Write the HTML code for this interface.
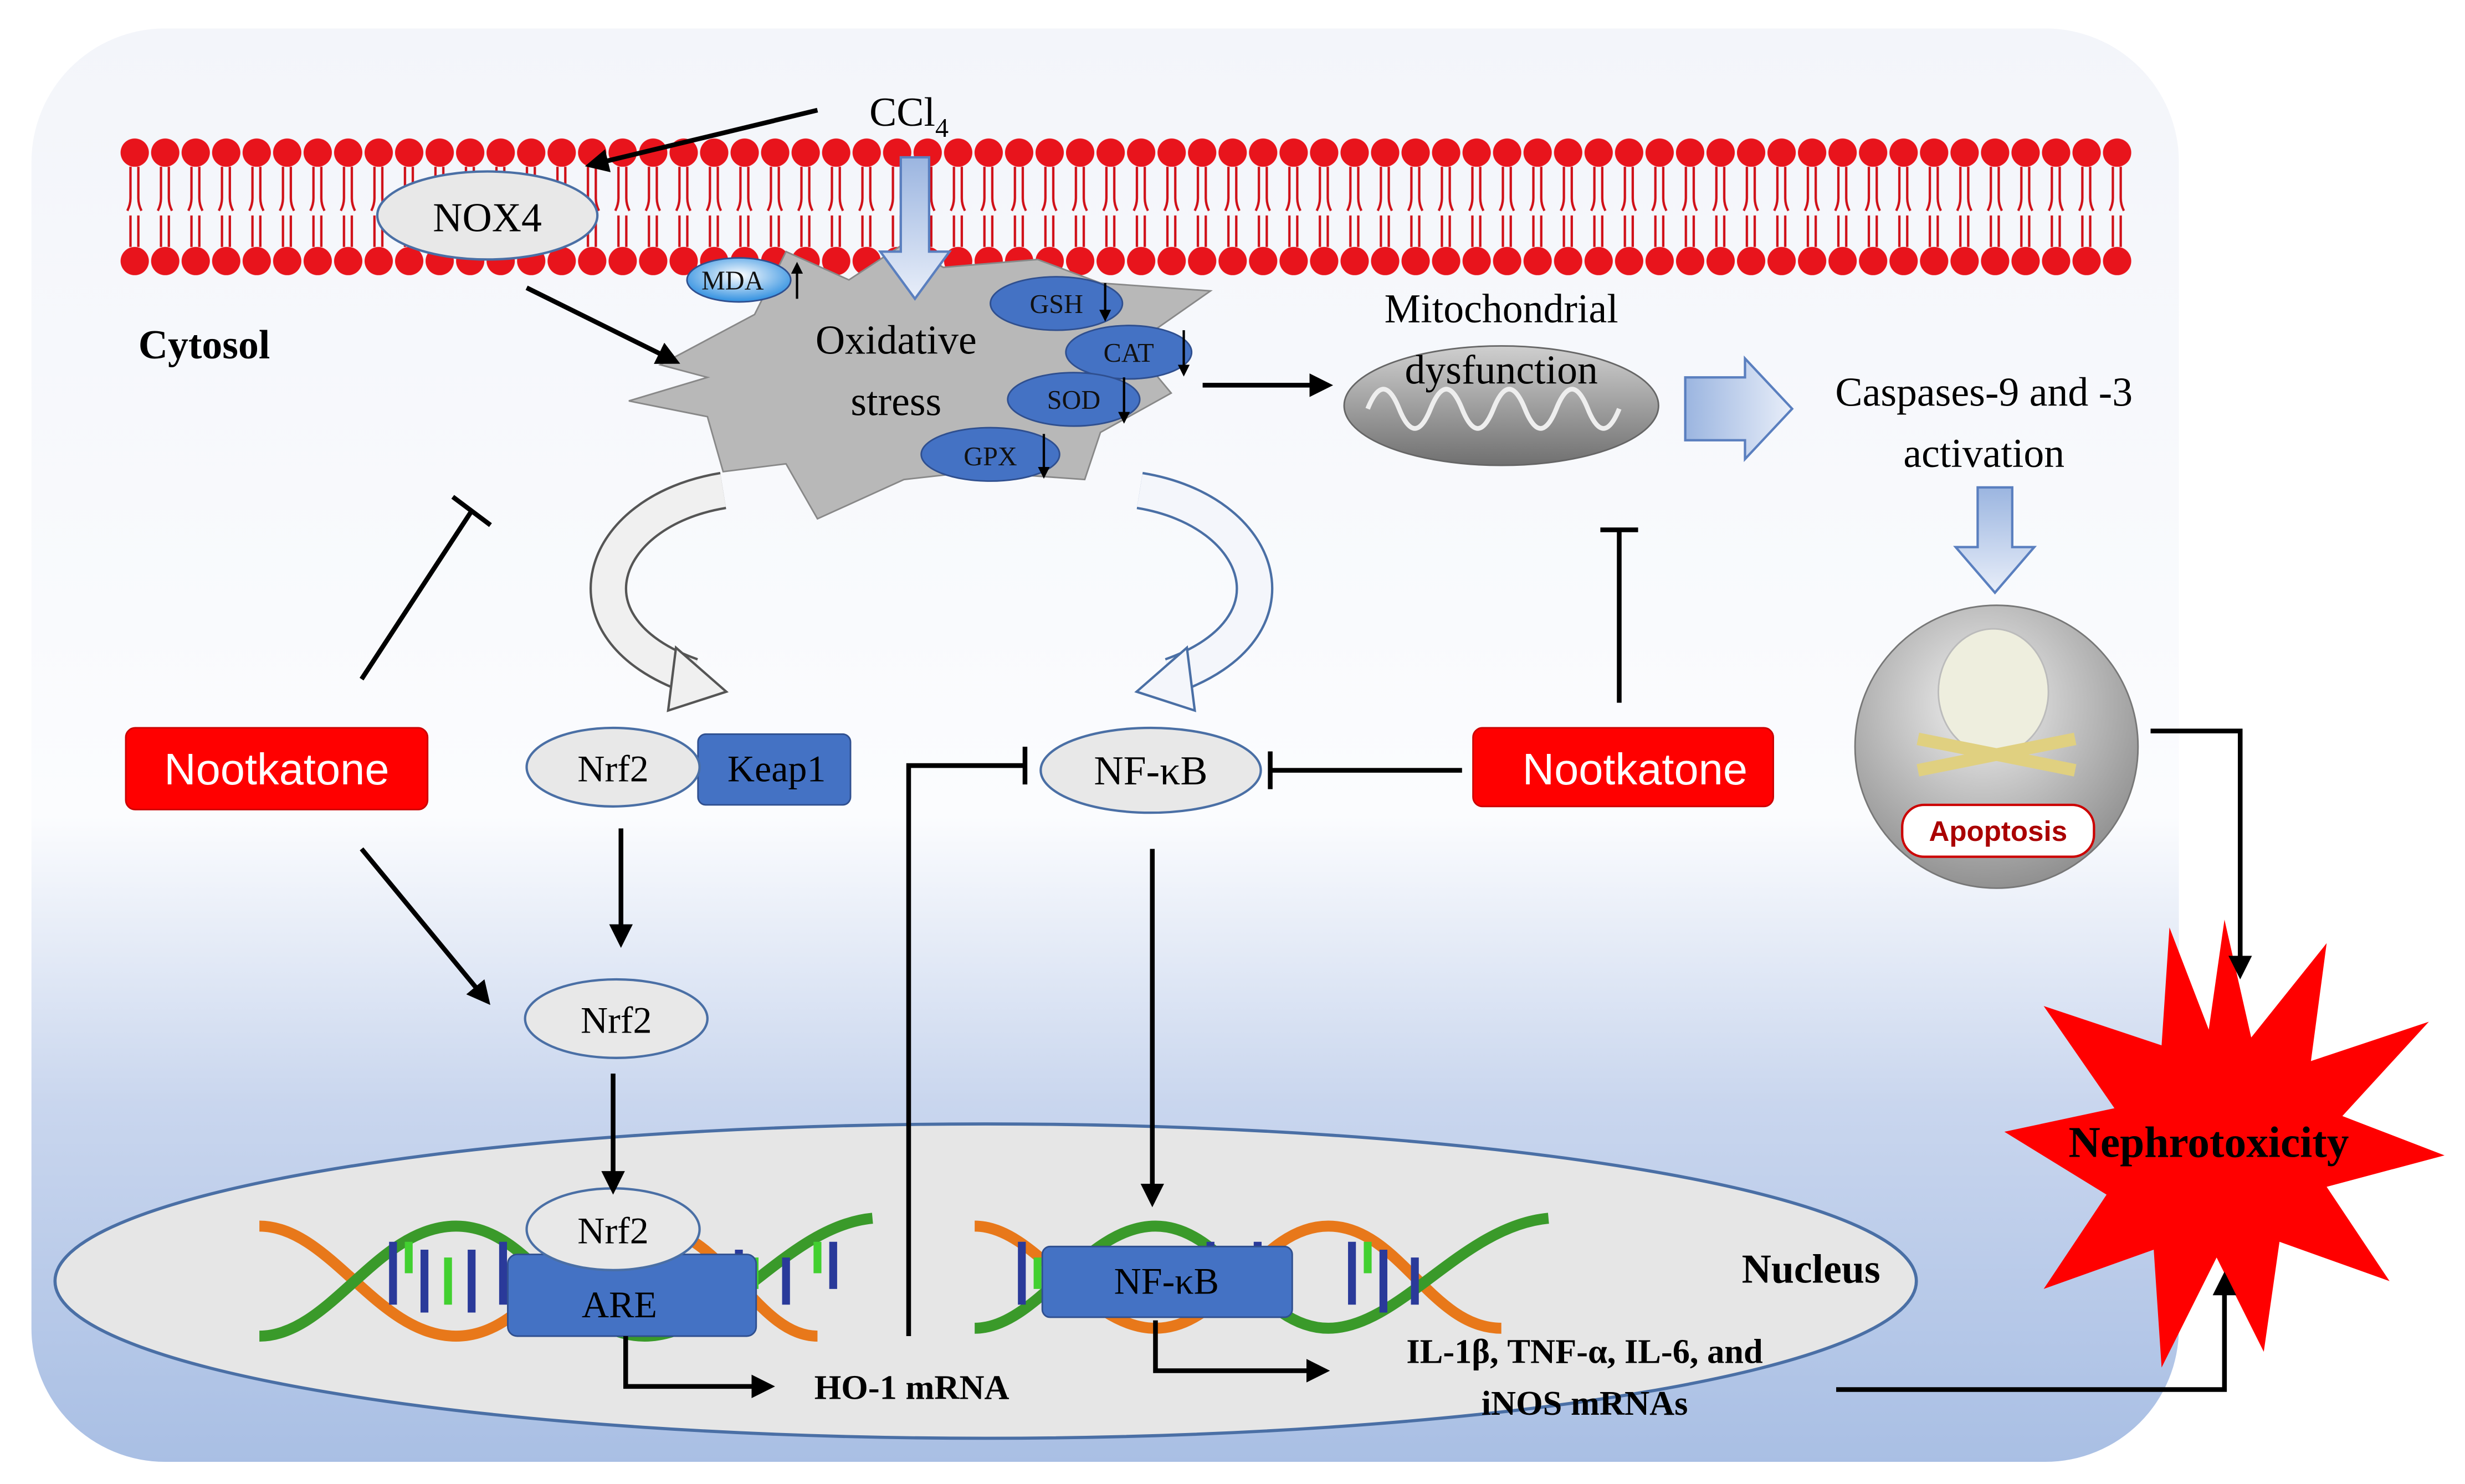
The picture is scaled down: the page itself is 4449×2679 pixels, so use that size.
<!DOCTYPE html>
<html><head><meta charset="utf-8"><style>
html,body{margin:0;padding:0;background:#fff}
svg{display:block}
text{font-family:"Liberation Serif",serif}
</style></head><body>
<svg width="4449" height="2679" viewBox="0 0 1568 944" xmlns="http://www.w3.org/2000/svg">
<defs>
<linearGradient id="bg" x1="0" y1="0" x2="0" y2="1">
<stop offset="0" stop-color="#f3f5fa"/><stop offset="0.55" stop-color="#fbfcfe"/><stop offset="0.75" stop-color="#c9d6ee"/><stop offset="1" stop-color="#a9bfe4"/>
</linearGradient>
<radialGradient id="blu" cx="0.5" cy="0.4" r="0.6"><stop offset="0" stop-color="#ffffff"/><stop offset="1" stop-color="#2f8fe0"/></radialGradient>
<radialGradient id="sk" cx="0.45" cy="0.35" r="0.7"><stop offset="0" stop-color="#f2f2f2"/><stop offset="1" stop-color="#8a8a8a"/></radialGradient>
<linearGradient id="mit" x1="0" y1="0" x2="0" y2="1"><stop offset="0" stop-color="#cfcfcf"/><stop offset="1" stop-color="#707070"/></linearGradient>
<linearGradient id="ha" x1="0" y1="0" x2="1" y2="0"><stop offset="0" stop-color="#9bb5e0"/><stop offset="1" stop-color="#e8eef9"/></linearGradient>
<linearGradient id="va" x1="0" y1="0" x2="0" y2="1"><stop offset="0" stop-color="#9bb5e0"/><stop offset="1" stop-color="#e8eef9"/></linearGradient>
<marker id="ar" viewBox="0 0 10 10" refX="8" refY="5" markerWidth="5" markerHeight="5" orient="auto"><path d="M0,0 L10,5 L0,10 z" fill="#000"/></marker>
<pattern id="mem" x="76" y="0" width="19.4" height="944" patternUnits="userSpaceOnUse">
<circle cx="9.7" cy="97" r="9" fill="#e8141c"/><circle cx="9.7" cy="166" r="9" fill="#e8141c"/>
<path d="M7,106 v20 q0,4 -2,8 M12,106 v20 q0,4 2,8 M7,157 v-20 M12,157 v-20" stroke="#d01018" stroke-width="1.5" fill="none"/>
</pattern>
</defs>
<rect x="20" y="18" width="1366" height="912" rx="85" fill="url(#bg)"/>
<rect x="76" y="85" width="1281" height="92" fill="url(#mem)"/>
<!-- nucleus -->
<ellipse cx="627" cy="815" rx="592" ry="100" fill="#e6e6e6" stroke="#4a6fa5" stroke-width="2"/>
<!-- DNA -->
<g fill="none" stroke-width="7">
<path d="M165,780 C210,780 240,850 290,850 C340,850 360,780 410,780 C460,780 480,850 520,850" stroke="#e8781a"/>
<path d="M165,850 C210,850 240,780 290,780 C340,780 360,850 410,850 C460,850 500,780 555,775" stroke="#3a9a2a"/>
<path d="M620,780 C660,780 690,845 735,845 C780,845 800,780 845,780 C890,780 910,845 955,845" stroke="#e8781a"/>
<path d="M620,845 C660,845 690,780 735,780 C780,780 800,845 845,845 C890,845 930,780 985,775" stroke="#3a9a2a"/>
</g>
<g stroke-width="5">
<path d="M250,790v40M270,795v40M300,795v40M320,790v40M470,795v40M500,800v30M530,790v30M650,790v40M690,800v35M770,790v40M800,790v40M860,790v40M880,795v40M900,800v30" stroke="#2a3a9a"/>
<path d="M260,790v20M285,800v30M480,800v20M520,790v20M660,800v20M780,800v20M870,790v20" stroke="#42d030"/>
</g>
<!-- star oxidative -->
<polygon points="420,232 480,200 500,160 540,178 575,155 600,170 660,165 700,180 770,185 720,220 745,250 700,275 690,305 620,300 575,305 520,330 500,295 460,300 450,265 400,255 450,240" fill="#b8b8b8" stroke="#888" stroke-width="1"/>
<text x="570" y="225" font-size="26" text-anchor="middle">Oxidative</text>
<text x="570" y="264" font-size="26" text-anchor="middle">stress</text>
<!-- blue ellipses -->
<g font-size="17" text-anchor="middle" stroke="#2f4f8f" stroke-width="1">
<ellipse cx="470" cy="178" rx="33" ry="14" fill="url(#blu)"/>
<ellipse cx="672" cy="193" rx="42" ry="17" fill="#4472c4"/>
<ellipse cx="718" cy="224" rx="40" ry="17" fill="#4472c4"/>
<ellipse cx="683" cy="254" rx="42" ry="17" fill="#4472c4"/>
<ellipse cx="630" cy="289" rx="44" ry="17" fill="#4472c4"/>
</g>
<g font-size="17" text-anchor="middle" fill="#111">
<text x="466" y="184">MDA</text><text x="672" y="199">GSH</text><text x="718" y="230">CAT</text><text x="683" y="260">SOD</text><text x="630" y="296">GPX</text>
</g>
<g stroke="#000" stroke-width="1.5" marker-end="url(#ar)"><path d="M507,190V168"/><path d="M703,180V203"/><path d="M753,210V238"/><path d="M715,240V268"/><path d="M664,276V303"/></g>
<!-- NOX4 -->
<ellipse cx="310" cy="137" rx="70" ry="28" fill="#e8e8e8" stroke="#4a6fa5" stroke-width="1.5"/>
<text x="310" y="147" font-size="26" text-anchor="middle">NOX4</text>
<text x="553" y="80" font-size="26">CCl<tspan font-size="17" dy="7">4</tspan></text>
<text x="88" y="228" font-size="26" font-weight="bold">Cytosol</text>
<!-- CCl4 down arrow -->
<polygon points="573,100 591,100 591,160 604,160 582,190 560,160 573,160" fill="url(#va)" stroke="#5a7fbf" stroke-width="1.5"/>
<!-- mitochondria -->
<ellipse cx="955" cy="258" rx="100" ry="38" fill="url(#mit)" stroke="#666"/>
<path d="M870,260 q10,-25 20,0 q10,25 20,0 q10,-25 20,0 q10,25 20,0 q10,-25 20,0 q10,25 20,0 q10,-25 20,0 q10,25 20,0" fill="none" stroke="#eee" stroke-width="3"/>
<text x="955" y="205" font-size="26" text-anchor="middle">Mitochondrial</text>
<text x="955" y="244" font-size="26" text-anchor="middle">dysfunction</text>
<polygon points="1072,240 1110,240 1110,228 1140,260 1110,292 1110,280 1072,280" fill="url(#ha)" stroke="#5a7fbf" stroke-width="1.5" transform="translate(0,0) scale(1,1)"/>
<text x="1262" y="258" font-size="26" text-anchor="middle">Caspases-9 and -3</text>
<text x="1262" y="297" font-size="26" text-anchor="middle">activation</text>
<polygon points="1258,310 1280,310 1280,348 1294,348 1269,377 1244,348 1258,348" fill="url(#va)" stroke="#5a7fbf" stroke-width="1.5"/>
<!-- skull -->
<circle cx="1270" cy="475" r="90" fill="url(#sk)" stroke="#777"/>
<ellipse cx="1268" cy="440" rx="35" ry="40" fill="#eeeede" stroke="#bbb"/>
<path d="M1220,490 L1320,470 M1220,470 L1320,490" stroke="#e0d080" stroke-width="8"/>
<rect x="1210" y="512" width="122" height="33" rx="14" fill="#fff" stroke="#c00" stroke-width="1.5"/>
<text x="1271" y="535" font-size="18" text-anchor="middle" fill="#a00" font-weight="bold" style="font-family:'Liberation Sans',sans-serif">Apoptosis</text>
<!-- nephro star -->
<polygon points="1415,585 1432,660 1480,600 1470,675 1545,650 1490,710 1555,735 1480,755 1520,815 1450,790 1440,860 1410,800 1375,870 1370,795 1300,820 1340,760 1275,720 1345,705 1300,640 1375,665 1380,590 1405,655" fill="#ff0000"/>
<text x="1405" y="736" font-size="28" font-weight="bold" text-anchor="middle">Nephrotoxicity</text>
<!-- curved hollow arrows -->
<path d="M460,312 C380,325 355,400 440,430" fill="none" stroke="#555" stroke-width="24"/>
<path d="M460,312 C380,325 355,400 440,430" fill="none" stroke="#f0f0f0" stroke-width="21"/>
<polygon points="430,412 462,440 425,452" fill="#f0f0f0" stroke="#555" stroke-width="1.5"/>
<path d="M725,312 C805,325 830,400 745,430" fill="none" stroke="#4a6fa5" stroke-width="24"/>
<path d="M725,312 C805,325 830,400 745,430" fill="none" stroke="#f4f6fb" stroke-width="21"/>
<polygon points="755,412 723,440 760,452" fill="#f4f6fb" stroke="#4a6fa5" stroke-width="1.5"/>
<!-- Nootkatone -->
<rect x="80" y="463" width="192" height="52" rx="6" fill="#ff0000" stroke="#c00"/>
<text x="176" y="499" font-size="28" fill="#fff" text-anchor="middle" style="font-family:'Liberation Sans',sans-serif">Nootkatone</text>
<rect x="937" y="463" width="191" height="50" rx="6" fill="#ff0000" stroke="#c00"/>
<text x="1040" y="499" font-size="28" fill="#fff" text-anchor="middle" style="font-family:'Liberation Sans',sans-serif">Nootkatone</text>
<!-- Nrf2/Keap1 -->
<rect x="444" y="467" width="97" height="45" rx="5" fill="#4472c4" stroke="#2f4f8f"/>
<ellipse cx="390" cy="488" rx="55" ry="25" fill="#e8e8e8" stroke="#4a6fa5" stroke-width="1.5"/>
<text x="390" y="497" font-size="24" text-anchor="middle">Nrf2</text>
<text x="494" y="497" font-size="24" text-anchor="middle">Keap1</text>
<ellipse cx="392" cy="648" rx="58" ry="25" fill="#e8e8e8" stroke="#4a6fa5" stroke-width="1.5"/>
<text x="392" y="657" font-size="24" text-anchor="middle">Nrf2</text>
<rect x="323" y="798" width="158" height="52" rx="6" fill="#4472c4" stroke="#2f4f8f"/>
<text x="394" y="838" font-size="24" text-anchor="middle">ARE</text>
<ellipse cx="390" cy="782" rx="55" ry="26" fill="#e8e8e8" stroke="#4a6fa5" stroke-width="1.5"/>
<text x="390" y="791" font-size="24" text-anchor="middle">Nrf2</text>
<ellipse cx="732" cy="490" rx="70" ry="27" fill="#e8e8e8" stroke="#4a6fa5" stroke-width="1.5"/>
<text x="732" y="499" font-size="26" text-anchor="middle">NF-κB</text>
<rect x="663" y="793" width="159" height="45" rx="5" fill="#4472c4" stroke="#2f4f8f"/>
<text x="742" y="823" font-size="24" text-anchor="middle">NF-κB</text>
<text x="1152" y="816" font-size="26" font-weight="bold" text-anchor="middle">Nucleus</text>
<text x="580" y="890" font-size="22" font-weight="bold" text-anchor="middle">HO-1 mRNA</text>
<text x="1008" y="867" font-size="22" font-weight="bold" text-anchor="middle">IL-1β, TNF-α, IL-6, and</text>
<text x="1008" y="900" font-size="22" font-weight="bold" text-anchor="middle">iNOS mRNAs</text>
<!-- lines -->
<g stroke="#000" stroke-width="3" fill="none">
<path d="M520,70 L375,105" marker-end="url(#ar)"/>
<path d="M335,183 L430,230" marker-end="url(#ar)"/>
<path d="M765,245 H845" marker-end="url(#ar)"/>
<path d="M230,432 L300,325 M288,316 L312,334"/>
<path d="M230,540 L310,637" marker-end="url(#ar)"/>
<path d="M395,527 V600" marker-end="url(#ar)"/>
<path d="M390,683 V757" marker-end="url(#ar)"/>
<path d="M398,850 V882 H490" marker-end="url(#ar)"/>
<path d="M578,850 V487 H652 M652,475 V499"/>
<path d="M930,490 H808 M808,478 V502"/>
<path d="M1030,447 V337 M1018,337 H1042"/>
<path d="M733,540 V765" marker-end="url(#ar)"/>
<path d="M735,840 V872 H843" marker-end="url(#ar)"/>
<path d="M1168,884 H1415 V812" marker-end="url(#ar)"/>
<path d="M1368,465 H1425 V620" marker-end="url(#ar)"/>
</g>
</svg>
</body></html>
